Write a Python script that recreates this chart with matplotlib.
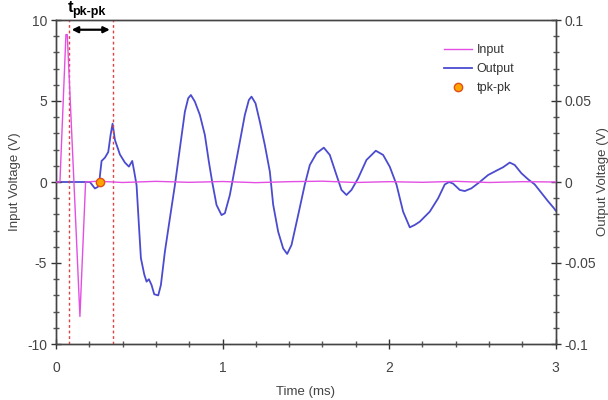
import numpy as np
import matplotlib
matplotlib.use("Agg")
import matplotlib.pyplot as plt
from matplotlib.ticker import MultipleLocator

plt.rcParams['font.family'] = ['Liberation Sans', 'DejaVu Sans']
plt.rcParams['axes.unicode_minus'] = False

# input trace (ms, V)
t_in = [0.0, 0.024, 0.060, 0.068, 0.108, 0.144, 0.178, 0.25, 0.4, 0.6, 0.8, 1.0,
        1.2, 1.4, 1.6, 1.8, 2.0, 2.2, 2.4, 2.6, 2.8, 3.0]
v_in = [0.0, 0.0, 9.1, 9.1, 0.0, -8.3, 0.0, 0.05, -0.03, 0.04, -0.02, 0.03,
        -0.04, 0.02, 0.05, -0.03, 0.02, -0.02, 0.04, -0.03, 0.02, 0.0]

# output trace (ms, V)
t_out = [0.0, 0.10, 0.174, 0.204, 0.234, 0.252, 0.260, 0.268, 0.274, 0.294, 0.314,
         0.328, 0.340, 0.354, 0.384, 0.414, 0.438, 0.458, 0.470, 0.484, 0.498,
         0.510, 0.530, 0.544, 0.558, 0.574, 0.590, 0.614, 0.630, 0.654, 0.684,
         0.714, 0.744, 0.774, 0.794, 0.810, 0.834, 0.864, 0.894, 0.918, 0.938,
         0.964, 0.994, 1.014, 1.044, 1.074, 1.104, 1.134, 1.158, 1.174, 1.198,
         1.224, 1.254, 1.284, 1.304, 1.334, 1.364, 1.388, 1.414, 1.454, 1.494,
         1.524, 1.564, 1.608, 1.644, 1.684, 1.714, 1.744, 1.774, 1.814, 1.864,
         1.920, 1.964, 2.004, 2.044, 2.084, 2.124, 2.154, 2.184, 2.244, 2.294,
         2.334, 2.360, 2.384, 2.424, 2.454, 2.494, 2.544, 2.594, 2.644, 2.684,
         2.724, 2.754, 2.794, 2.834, 2.874, 2.914, 2.954, 2.988, 3.0]
v_out = [0.0, 0.0, 0.0, 0.0, -0.004, -0.003, 0.0, 0.0075, 0.013, 0.015, 0.0185,
         0.029, 0.036, 0.026, 0.017, 0.012, 0.0095, 0.013, 0.0064, -0.002, -0.0265,
         -0.047, -0.057, -0.0615, -0.060, -0.0636, -0.0693, -0.070, -0.0636, -0.043, -0.0224,
         -0.002, 0.0208, 0.0434, 0.0517, 0.0537, 0.0496, 0.0414, 0.029, 0.0125, 0.0,
         -0.0142, -0.0204, -0.0193, -0.008, 0.0085, 0.0249, 0.0414, 0.0506, 0.0527, 0.0486,
         0.0372, 0.0228, 0.0064, -0.014, -0.0307, -0.041, -0.0444, -0.0389, -0.0204, -0.0015,
         0.0105, 0.0177, 0.0212, 0.0167, 0.0043, -0.0049, -0.008, -0.0049, 0.0023, 0.0136,
         0.0193, 0.0167, 0.0094, -0.0015, -0.0183, -0.028, -0.0265, -0.0245, -0.0183, -0.0101,
         -0.0015, 0.0, -0.001, -0.0049, -0.0056, -0.0039, 0.0, 0.0043, 0.007, 0.0091,
         0.012, 0.0105, 0.0054, 0.0017, -0.0015, -0.0067, -0.0119, -0.016, -0.0177]

# peak-to-peak markers
t_pk1 = 0.078
t_pk2 = 0.34
t_dot = 0.264
v_dot = 0.0

fig = plt.figure(figsize=(6.08, 4.0), dpi=100)
ax = fig.add_axes([0.092, 0.14, 0.822, 0.81])
ax2 = ax.twinx()

l1, = ax.plot(t_in, v_in, color='#E34FE3', lw=1.0, label='Input', zorder=3)
l2, = ax2.plot(t_out, v_out, color='#4B4BD0', lw=1.3, label='Output', zorder=3,
               solid_joinstyle='round')
d, = ax.plot([t_dot], [v_dot], 'o', color='#FFA500', mec='#E0501A', ms=6, mew=1,
             label='tpk-pk', zorder=5)
ax.set_zorder(ax2.get_zorder() + 1)
ax.patch.set_visible(False)

for tv in (t_pk1, t_pk2):
    ax.axvline(tv, color='#E04040', ls=(0, (2, 2)), lw=1.0)
ax.annotate('', xy=(t_pk1, 9.4), xytext=(t_pk2, 9.4),
            arrowprops=dict(arrowstyle='<|-|>', color='black', lw=1.6, mutation_scale=9))
ax.text(0.072, 10.3, 't', fontsize=12, fontweight='bold', ha='left', va='bottom',
        clip_on=False)
ax.text(0.098, 10.15, 'pk-pk', fontsize=9, fontweight='bold', ha='left', va='bottom')

ax.set_xlim(0, 3)
ax.set_ylim(-10, 10)
ax2.set_ylim(-0.1, 0.1)
ax.xaxis.set_minor_locator(MultipleLocator(0.2))
ax.yaxis.set_minor_locator(MultipleLocator(1))
ax2.yaxis.set_minor_locator(MultipleLocator(0.01))
ax2.set_yticks([-0.1, -0.05, 0, 0.05, 0.1])
ax2.set_yticklabels(['-0.1', '-0.05', '0', '0.05', '0.1'])
ax.set_yticks([-10, -5, 0, 5, 10])
ax.set_yticklabels(['-10', '-5', '0', '5', '10'])
ax.set_xticks([0, 1, 2, 3])
ax.set_xticklabels(['0', '1', '2', '3'])

for a in (ax, ax2):
    a.tick_params(which='major', direction='inout', length=7, width=1, labelsize=10,
                  colors='#333333', labelcolor='#444444', pad=3)
    a.tick_params(which='minor', direction='inout', length=4, width=1, colors='#555555')
    for s in a.spines.values():
        s.set_color('#444444')
        s.set_linewidth(1.0)
ax.tick_params(axis='x', which='major', pad=9)

ax.set_xlabel('Time (ms)', fontsize=9.5, color='#444444', labelpad=8)
ax.set_ylabel('Input Voltage (V)', fontsize=9.5, color='#444444', labelpad=4)
ax2.set_ylabel('Output Voltage (V)', fontsize=9.5, color='#444444')
ax2.yaxis.set_label_coords(1.083, 0.5)

ax.legend(handles=[l1, l2, d], loc='upper right', bbox_to_anchor=(0.94, 0.96),
          frameon=False, fontsize=9, handlelength=2.2, handletextpad=0.4,
          labelspacing=0.55, labelcolor='#333333')

fig.savefig('out.png', dpi=100)
